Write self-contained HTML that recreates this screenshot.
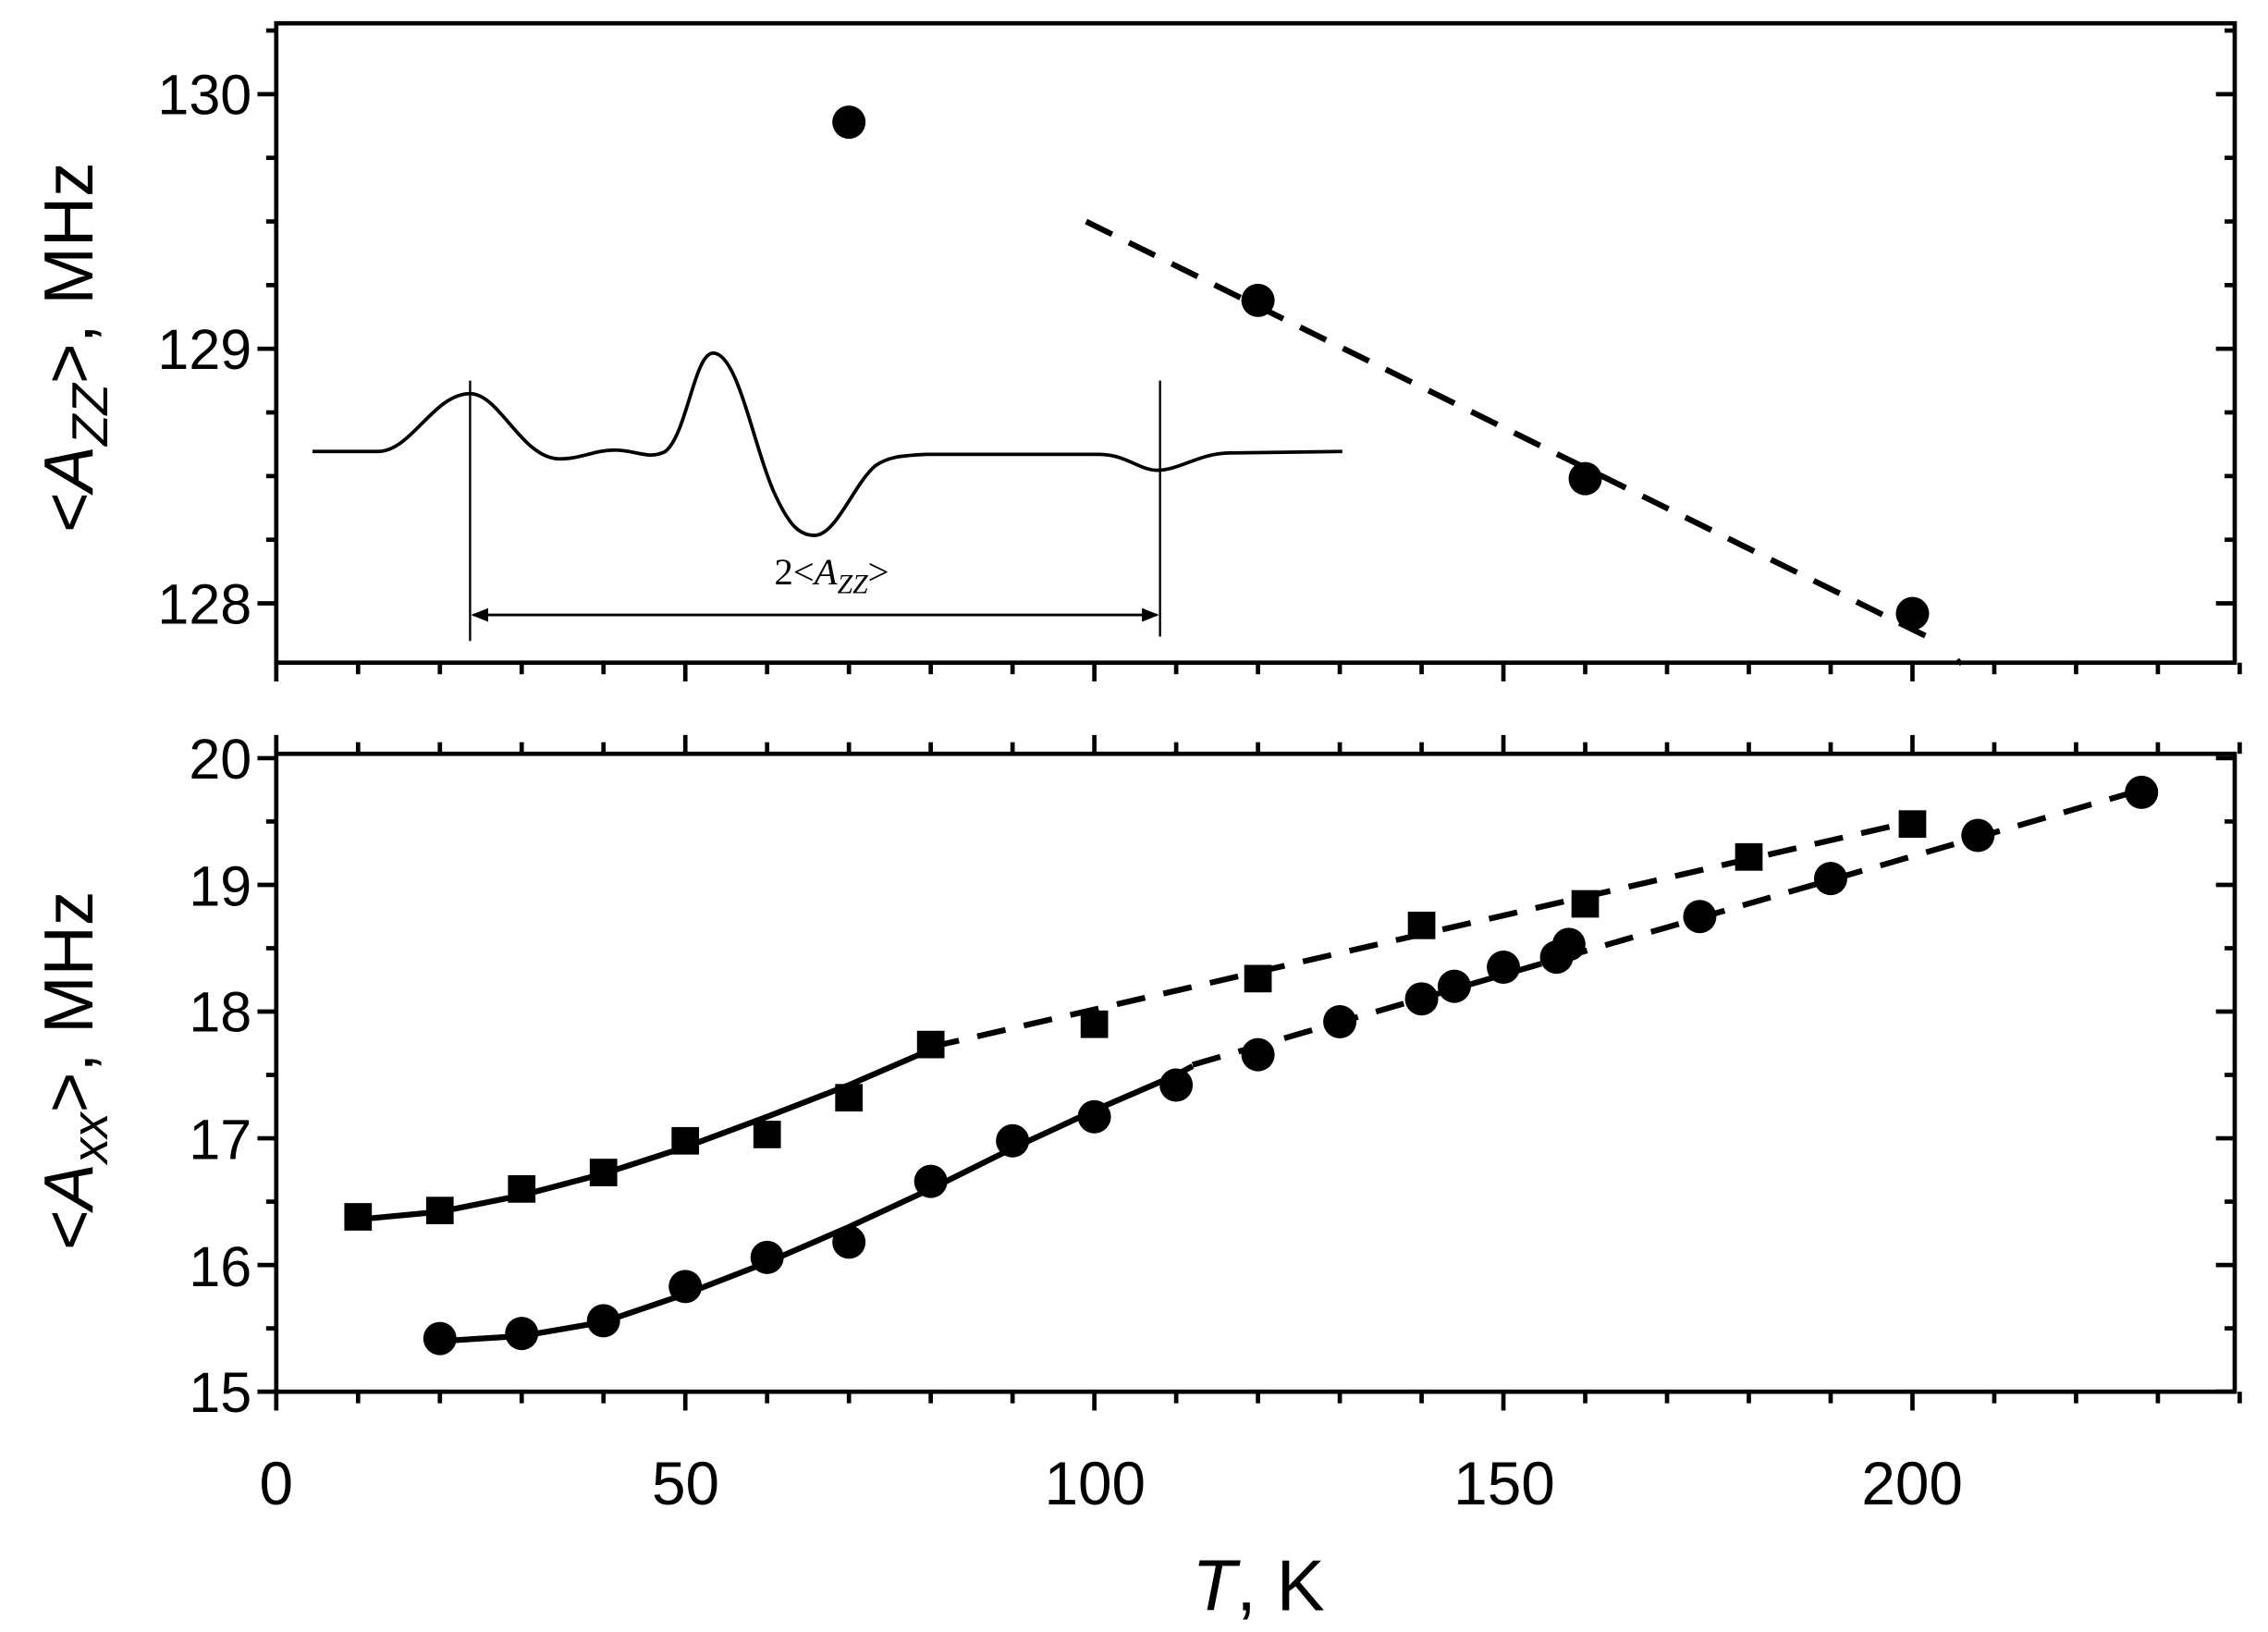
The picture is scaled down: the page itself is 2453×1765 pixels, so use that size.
<!DOCTYPE html>
<html><head><meta charset="utf-8"><style>
html,body{margin:0;padding:0;background:#fff;}
svg{display:block;}
text{font-family:"Liberation Sans",sans-serif;fill:#000;}
</style></head><body>
<svg id="s" width="2453" height="1765" viewBox="0 0 1568 1128" xmlns="http://www.w3.org/2000/svg">
<rect width="1568" height="1128" fill="#fff"/>
<g id="g" stroke="#000" fill="none"></g>
<g font-size="39" text-anchor="end">
<text x="174" y="79">130</text>
<text x="174" y="255">129</text>
<text x="174" y="431">128</text>
<text x="174" y="538">20</text>
<text x="174" y="626">19</text>
<text x="174" y="713">18</text>
<text x="174" y="801">17</text>
<text x="174" y="889">16</text>
<text x="174" y="976">15</text>
</g>
<g font-size="42" text-anchor="middle">
<text x="191" y="1040">0</text>
<text x="474" y="1040">50</text>
<text x="757" y="1040">100</text>
<text x="1040" y="1040">150</text>
<text x="1322" y="1040">200</text>
</g>
<text x="870" y="1113" font-size="50" text-anchor="middle"><tspan font-style="italic">T</tspan>, K</text>
<text transform="translate(64,240) rotate(-90)" font-size="48" text-anchor="middle">&lt;<tspan font-style="italic">A</tspan><tspan font-style="italic" font-size="35" dy="10">ZZ</tspan><tspan dy="-10">&gt;,  MHz</tspan></text>
<text transform="translate(64,740) rotate(-90)" font-size="48" text-anchor="middle">&lt;<tspan font-style="italic">A</tspan><tspan font-style="italic" font-size="35" dy="10">xx</tspan><tspan dy="-10">&gt;,  MHz</tspan></text>
<text x="575" y="404" font-size="26" text-anchor="middle" style="font-family:'Liberation Serif',serif">2&lt;<tspan font-style="italic">A</tspan><tspan font-style="italic" font-size="19" dy="6">ZZ</tspan><tspan dy="-6">&gt;</tspan></text>
</svg>
<script>
const g=document.getElementById('g');
const NS='http://www.w3.org/2000/svg';
function el(t,a){const e=document.createElementNS(NS,t);for(const k in a)e.setAttribute(k,a[k]);g.appendChild(e);return e;}
const X=T=>191+5.656*T, YT=v=>241-(v-129)*176, YB=v=>962-(v-15)*87.6;
function line(x1,y1,x2,y2,w){el('line',{x1,y1,x2,y2,'stroke-width':w||3});}
el('rect',{x:191,y:16,width:1354,height:442,'stroke-width':3});
el('rect',{x:191,y:521,width:1354,height:441,'stroke-width':3});
for(let T=0;T<=240;T+=10){const x=X(T),maj=T%50==0;
 line(x,458,x,458+(maj?13:8),3); line(x,521,x,521-(maj?13:8),3);
 line(x,962,x,962+(maj?13:8),3);}
for(let v=127.75;v<=130.25;v+=0.25){const y=YT(v),maj=Math.abs(v-Math.round(v))<1e-6;
 if(y<16||y>458)continue; line(1545,y,1545-(maj?13:7),y,3); line(191,y,191-(maj?13:7),y,3);}
for(let v=15;v<=20;v+=0.5){const y=YB(v),maj=Math.abs(v-Math.round(v))<1e-6;
 line(1545,y,1545-(maj?13:7),y,3); line(191,y,191-(maj?13:7),y,3);}
function path(pts,dash){let d='M'+pts.map(p=>p[0].toFixed(1)+','+p[1].toFixed(1)).join(' L');
 const a={d,'stroke-width':4};if(dash)a['stroke-dasharray']='20,13';el('path',a);}
path([[X(99),YT(129.5)],[X(203),YT(127.85)]],true);
line(X(205.5),YT(127.78),X(206),YT(127.76),3);
[[70,129.89],[120,129.19],[160,128.49],[200,127.96]].forEach(p=>el('circle',{cx:X(p[0]),cy:YT(p[1]),r:11.5,fill:'#000',stroke:'none'}));
el('path',{d:'M216,312 L262,312 C285,311 300,272 325,272 C345,272 360,315 385,317 C400,318 410,311 425,311 C440,311 448,318 460,312 C475,300 480,244 493,244 C510,244 520,305 535,340 C545,362 552,370 563,370 C578,370 590,335 605,322 C615,315 625,315 640,314 L760,314 C778,314 788,325 800,325 C815,325 830,313 850,313 L928,312','stroke-width':2.4});
line(325,263,325,443,1.5); line(802,263,802,440,1.5); line(327,425,800,425,1.8);
el('path',{d:'M327,425 l10,-4 l0,8 z',fill:'#000','stroke-width':1});
el('path',{d:'M800,425 l-10,-4 l0,8 z',fill:'#000','stroke-width':1});
path([[10,16.36],[20,16.42],[30,16.55],[40,16.72],[50,16.93],[60,17.17],[70,17.42],[80,17.7]].map(p=>[X(p[0]),YB(p[1])]));
path([[X(80),YB(17.72)],[X(200),YB(19.5)]],true);
path([[20,15.4],[30,15.44],[40,15.55],[50,15.77],[60,16.02],[70,16.3],[80,16.6],[90,16.92],[100,17.22],[110,17.5],[112,17.57]].map(p=>[X(p[0]),YB(p[1])]));
path([[X(112),YB(17.58)],[X(228),YB(19.75)]],true);
[[10,16.38],[20,16.43],[30,16.6],[40,16.73],[50,16.98],[60,17.03],[70,17.32],[80,17.74],[100,17.9],[120,18.26],[140,18.68],[160,18.85],[180,19.22],[200,19.48]].forEach(p=>el('rect',{x:X(p[0])-9.5,y:YB(p[1])-9.5,width:19,height:19,fill:'#000',stroke:'none'}));
[[20,15.42],[30,15.46],[40,15.56],[50,15.83],[60,16.06],[70,16.18],[80,16.66],[90,16.98],[100,17.17],[110,17.42],[120,17.66],[130,17.92],[140,18.1],[144,18.2],[150,18.35],[156.5,18.43],[158,18.53],[174,18.75],[190,19.05],[208,19.39],[228,19.73]].forEach(p=>el('circle',{cx:X(p[0]),cy:YB(p[1]),r:11.5,fill:'#000',stroke:'none'}));
</script>
</body></html>
